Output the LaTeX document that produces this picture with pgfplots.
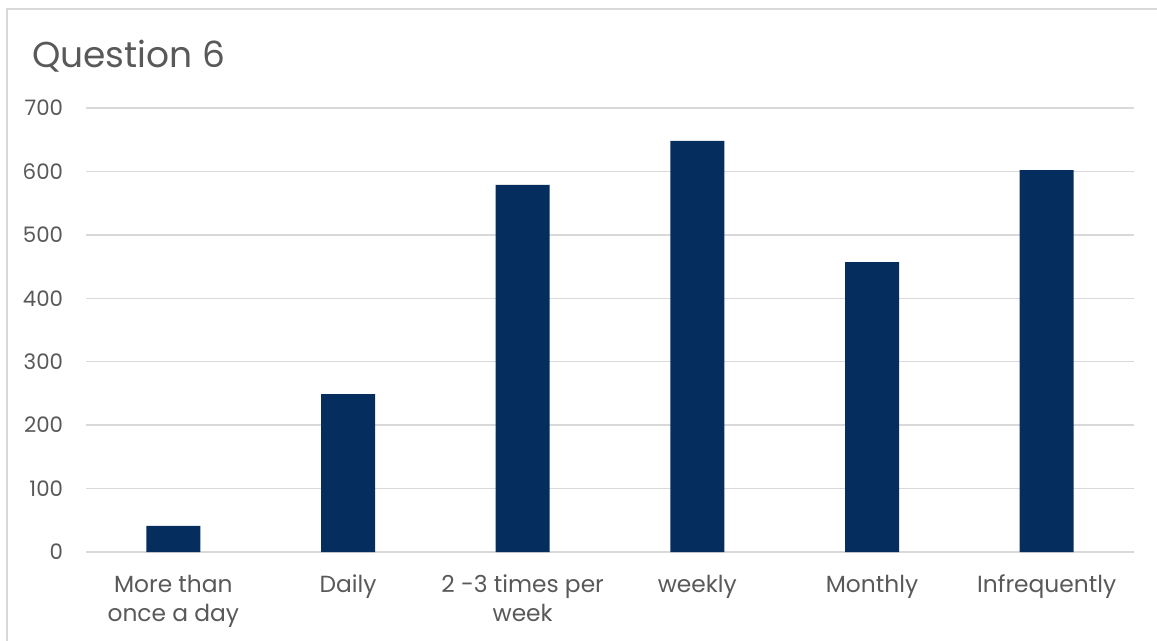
\documentclass[border=0pt]{standalone}
\usepackage{fontspec}
\setmainfont{Poppins}
\usepackage{pgfplots}
\pgfplotsset{compat=1.18}
\definecolor{barblue}{RGB}{5,46,94}
\definecolor{txtgray}{RGB}{89,89,89}
\definecolor{gridgray}{RGB}{217,217,217}

\begin{document}
\begin{tikzpicture}
\begin{axis}[
    at={(64.5pt,66pt)}, anchor=south west,
    scale only axis,
    width=786pt, height=333pt,
    xmin=-0.5, xmax=5.5,
    ymin=0, ymax=700,
    ytick={0,100,...,700},
    xtick=data,
    xticklabels={\strut More than\\\strut once a day, \strut Daily, \strut 2 -3 times per\\\strut week, \strut weekly, \strut Monthly, \strut Infrequently},
    axis x line*=bottom,
    axis y line*=left,
    y axis line style={draw=none},
    x axis line style={gridgray, line width=1pt, -},
    ymajorgrids,
    grid style={gridgray, line width=1pt},
    major tick length=0pt,
    ybar, bar width=40.5pt,
    /pgf/number format/assume math mode=true,
    yticklabel style={text=txtgray, font=\fontsize{16}{21}\selectfont, anchor=east, inner sep=0pt, xshift=-17pt},
    xticklabel style={text=txtgray, font=\fontsize{17.5}{22}\selectfont, align=center, anchor=north, inner sep=0pt, yshift=-14.5pt},
    clip=false,
]
\addplot[fill=barblue, draw=none] coordinates {(0,41) (1,249) (2,579) (3,648) (4,457) (5,602)};
\end{axis}
\node[anchor=base west, inner sep=0pt, text=txtgray, font=\fontsize{27}{32}\selectfont] at (24pt,429pt) {Question 6};
\pgfresetboundingbox
\clip (0,0) rectangle (867.75pt,480pt);
\useasboundingbox (0,0) rectangle (867.75pt,480pt);
\draw[gridgray, line width=1.5pt] (5.25pt,-20pt) rectangle (890pt,473.25pt);
\end{tikzpicture}
\end{document}
